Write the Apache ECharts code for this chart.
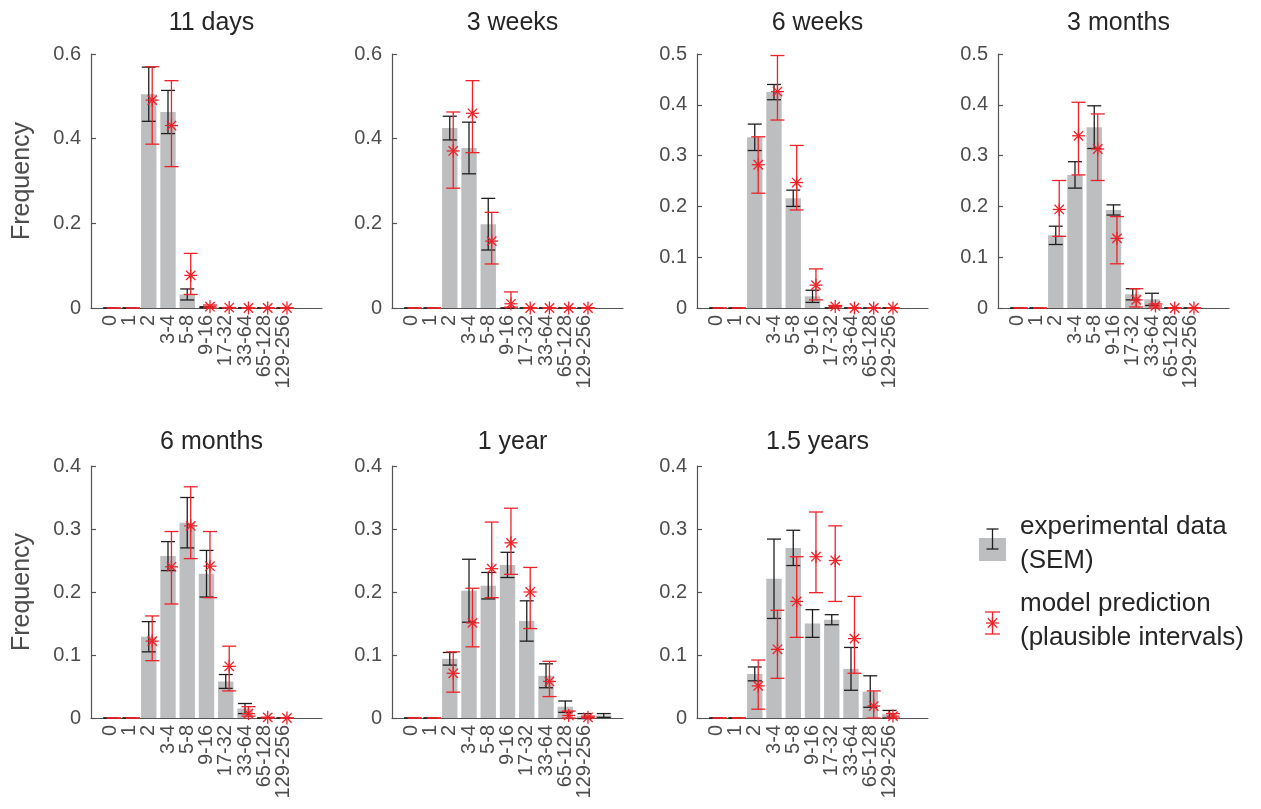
<!DOCTYPE html>
<html>
<head>
<meta charset="utf-8">
<script src="https://cdn.jsdelivr.net/npm/echarts@6/dist/echarts.min.js"></script>
<style>
  html, body { margin: 0; padding: 0; background: #fff; }
  #chart { width: 1261px; height: 809px; }
</style>
</head>
<body>
<div id="chart"></div>
<script>
// bin labels on the x axis (bin i sits at x = i + 1)
const categories = ["0", "1", "2", "3-4", "5-8", "9-16", "17-32", "33-64", "65-128", "129-256"];
const titles = ["11 days", "3 weeks", "6 weeks", "3 months", "6 months", "1 year", "1.5 years"];
const yMaxes = [0.6, 0.6, 0.5, 0.5, 0.4, 0.4, 0.4];
const ySteps = [0.2, 0.2, 0.1, 0.1, 0.1, 0.1, 0.1];

// experimental data: mean and SEM
const days11Exp = [0, 0, 0.505, 0.463, 0.032, 0.002, 0, 0, 0, 0];
const days11Sem = [0, 0, 0.064, 0.051, 0.013, 0.001, 0, 0, 0, 0];
const weeks3Exp = [0, 0, 0.425, 0.378, 0.198, 0, 0, 0, 0, 0];
const weeks3Sem = [0, 0, 0.028, 0.061, 0.061, 0, 0, 0, 0, 0];
const weeks6Exp = [0, 0, 0.336, 0.425, 0.216, 0.023, 0, 0, 0, 0];
const weeks6Sem = [0, 0, 0.026, 0.015, 0.016, 0.012, 0, 0, 0, 0];
const months3Exp = [0, 0, 0.143, 0.262, 0.356, 0.193, 0.027, 0.017, 0, 0];
const months3Sem = [0, 0, 0.018, 0.026, 0.042, 0.010, 0.011, 0.012, 0, 0];
const months6Exp = [0, 0, 0.129, 0.257, 0.310, 0.229, 0.058, 0.015, 0, 0];
const months6Sem = [0, 0, 0.024, 0.023, 0.040, 0.037, 0.011, 0.008, 0, 0];
const year1Exp = [0, 0, 0.094, 0.202, 0.210, 0.243, 0.154, 0.067, 0.018, 0.003, 0.004];
const year1Sem = [0, 0, 0.010, 0.050, 0.021, 0.020, 0.032, 0.019, 0.009, 0.004, 0.003];
const years15Exp = [0, 0, 0.070, 0.221, 0.270, 0.150, 0.156, 0.078, 0.042, 0.006];
const years15Sem = [0, 0, 0.011, 0.063, 0.028, 0.022, 0.008, 0.034, 0.025, 0.006];

// model prediction: value and plausible interval
const days11Mod = [null, null, 0.491, 0.431, 0.077, 0.003, 0.001, 0, 0, 0];
const days11Lo = [0, 0, 0.387, 0.334, 0.032, 0, 0, 0, 0, 0];
const days11Hi = [0, 0, 0.570, 0.537, 0.129, 0.007, 0.001, 0, 0, 0];
const weeks3Mod = [null, null, 0.371, 0.460, 0.158, 0.010, 0, 0, 0, 0];
const weeks3Lo = [0, 0, 0.283, 0.367, 0.104, 0.002, 0, 0, 0, 0];
const weeks3Hi = [0, 0, 0.463, 0.537, 0.226, 0.038, 0, 0, 0, 0];
const weeks6Mod = [null, null, 0.282, 0.426, 0.247, 0.045, 0.003, 0, 0, 0];
const weeks6Lo = [0, 0, 0.226, 0.370, 0.193, 0.016, 0, 0, 0, 0];
const weeks6Hi = [0, 0, 0.337, 0.497, 0.320, 0.077, 0.005, 0, 0, 0];
const months3Mod = [null, null, 0.194, 0.339, 0.313, 0.137, 0.016, 0.004, 0, 0];
const months3Lo = [0, 0, 0.141, 0.262, 0.251, 0.087, 0.002, 0, 0, 0];
const months3Hi = [0, 0, 0.251, 0.405, 0.382, 0.180, 0.038, 0.008, 0, 0];
const months6Mod = [null, null, 0.122, 0.240, 0.305, 0.241, 0.082, 0.007, 0.001, 0];
const months6Lo = [0, 0, 0.091, 0.181, 0.253, 0.191, 0.043, 0.003, 0, 0];
const months6Hi = [0, 0, 0.162, 0.296, 0.367, 0.296, 0.114, 0.018, 0.001, 0];
const year1Mod = [null, null, 0.071, 0.151, 0.237, 0.278, 0.200, 0.058, 0.004, 0.001];
const year1Lo = [0, 0, 0.041, 0.113, 0.191, 0.228, 0.142, 0.034, 0, 0];
const year1Hi = [0, 0, 0.105, 0.206, 0.311, 0.333, 0.239, 0.090, 0.011, 0.003];
const years15Mod = [null, null, 0.051, 0.109, 0.185, 0.256, 0.250, 0.126, 0.019, 0.003];
const years15Lo = [0, 0, 0.014, 0.063, 0.128, 0.199, 0.185, 0.071, 0, 0];
const years15Hi = [0, 0, 0.092, 0.171, 0.256, 0.327, 0.305, 0.193, 0.043, 0.007];

const expList = [days11Exp, weeks3Exp, weeks6Exp, months3Exp, months6Exp, year1Exp, years15Exp];
const semList = [days11Sem, weeks3Sem, weeks6Sem, months3Sem, months6Sem, year1Sem, years15Sem];
const modList = [days11Mod, weeks3Mod, weeks6Mod, months3Mod, months6Mod, year1Mod, years15Mod];
const loList = [days11Lo, weeks3Lo, weeks6Lo, months3Lo, months6Lo, year1Lo, years15Lo];
const hiList = [days11Hi, weeks3Hi, weeks6Hi, months3Hi, months6Hi, year1Hi, years15Hi];

// layout (px)
const lefts = [91, 392, 697, 998, 91, 392, 697];
const tops = [54, 54, 54, 54, 466, 466, 466];
const heights = [254, 254, 254, 254, 252, 252, 252];
const titleTops = [6, 6, 6, 6, 425, 425, 425];
const W = 231;

const font = "Liberation Sans, Arial, Helvetica, sans-serif";
const barColor = "#bcbec0";
const axisColor = "#555555";
const tickText = "#4d4d4d";
const black = "#1f1f1f";
const red = "#ee2228";
const redShift = 0.18;

function errRender(color, dx, half) {
  return function (params, api) {
    const x = api.value(0) + dx;
    const lo = api.coord([x, api.value(1)]);
    const hi = api.coord([x, api.value(2)]);
    const s = { stroke: color, lineWidth: 1.3 };
    return {
      type: "group",
      children: [
        { type: "line", shape: { x1: lo[0], y1: lo[1], x2: hi[0], y2: hi[1] }, style: s },
        { type: "line", shape: { x1: lo[0] - half, y1: lo[1], x2: lo[0] + half, y2: lo[1] }, style: s },
        { type: "line", shape: { x1: hi[0] - half, y1: hi[1], x2: hi[0] + half, y2: hi[1] }, style: s },
      ],
    };
  };
}

function starShapes(cx, cy, r, color) {
  const d = r * 0.72;
  const s = { stroke: color, lineWidth: 1.3 };
  return [
    { type: "line", shape: { x1: cx - r, y1: cy, x2: cx + r, y2: cy }, style: s },
    { type: "line", shape: { x1: cx, y1: cy - r, x2: cx, y2: cy + r }, style: s },
    { type: "line", shape: { x1: cx - d, y1: cy - d, x2: cx + d, y2: cy + d }, style: s },
    { type: "line", shape: { x1: cx - d, y1: cy + d, x2: cx + d, y2: cy - d }, style: s },
  ];
}

function starRender(params, api) {
  const p = api.coord([api.value(0) + redShift, api.value(1)]);
  return { type: "group", children: starShapes(p[0], p[1], 6.5, red) };
}

function barRender(params, api) {
  const x = api.value(0);
  const p0 = api.coord([x - 0.4, api.value(1)]);
  const p1 = api.coord([x + 0.4, 0]);
  return {
    type: "rect",
    shape: { x: p0[0], y: p0[1], width: p1[0] - p0[0], height: p1[1] - p0[1] },
    style: { fill: barColor },
  };
}

const grids = [], xAxes = [], yAxes = [], series = [], titleList = [];

titles.forEach((t, i) => {
  grids.push({ left: lefts[i], top: tops[i], width: W, height: heights[i] });
  titleList.push({
    text: t,
    left: lefts[i] + W / 2,
    top: titleTops[i],
    textAlign: "center",
    textStyle: { fontFamily: font, fontSize: 25, fontWeight: "normal", color: "#262626" },
  });
  xAxes.push({
    type: "value", gridIndex: i, min: 0, max: 12, interval: 1, z: 3,
    axisLine: { show: true, onZero: false, lineStyle: { color: axisColor, width: 1.2 } },
    axisTick: { show: false },
    splitLine: { show: false },
    axisLabel: {
      rotate: 90, margin: 7, fontFamily: font, fontSize: 20, color: tickText,
      showMinLabel: true, showMaxLabel: true,
      formatter: (v) => categories[Math.round(v) - 1] || "",
    },
  });
  yAxes.push({
    type: "value", gridIndex: i, min: 0, max: yMaxes[i], interval: ySteps[i], z: 3,
    axisLine: { show: true, lineStyle: { color: axisColor, width: 1.2 } },
    axisTick: { show: true, inside: true, length: 5, lineStyle: { color: axisColor, width: 1.2 } },
    splitLine: { show: false },
    axisLabel: {
      margin: 10, fontFamily: font, fontSize: 20, color: tickText,
      formatter: (v) => String(parseFloat(v.toFixed(2))),
    },
  });

  const exp = expList[i], sem = semList[i], mod = modList[i], lo = loList[i], hi = hiList[i];
  series.push({
    type: "custom", xAxisIndex: i, yAxisIndex: i, z: 2, silent: true,
    renderItem: barRender,
    data: exp.map((v, k) => [k + 1, v]),
  });
  series.push({
    type: "custom", xAxisIndex: i, yAxisIndex: i, z: 4, silent: true,
    renderItem: errRender(black, 0, 7),
    data: exp.map((v, k) => [k + 1, v - sem[k], v + sem[k]]),
  });
  series.push({
    type: "custom", xAxisIndex: i, yAxisIndex: i, z: 5, silent: true,
    renderItem: errRender(red, redShift, 7),
    data: lo.map((v, k) => [k + 1, v, hi[k]]),
  });
  series.push({
    type: "custom", xAxisIndex: i, yAxisIndex: i, z: 6, silent: true,
    renderItem: starRender,
    data: mod.map((v, k) => [k + 1, v]).filter((d) => d[1] !== null),
  });
});

// legend (drawn by hand to match the errorbar icons)
const legendGraphics = [
  { type: "rect", shape: { x: 979, y: 538, width: 27, height: 23 }, style: { fill: barColor } },
  { type: "line", shape: { x1: 992.5, y1: 529, x2: 992.5, y2: 549 }, style: { stroke: black, lineWidth: 1.3 } },
  { type: "line", shape: { x1: 986.5, y1: 529, x2: 998.5, y2: 529 }, style: { stroke: black, lineWidth: 1.3 } },
  { type: "line", shape: { x1: 986.5, y1: 549, x2: 998.5, y2: 549 }, style: { stroke: black, lineWidth: 1.3 } },
  { type: "line", shape: { x1: 992.5, y1: 612, x2: 992.5, y2: 634 }, style: { stroke: red, lineWidth: 1.3 } },
  { type: "line", shape: { x1: 985, y1: 612, x2: 1000, y2: 612 }, style: { stroke: red, lineWidth: 1.3 } },
  { type: "line", shape: { x1: 985, y1: 634, x2: 1000, y2: 634 }, style: { stroke: red, lineWidth: 1.3 } },
  ...starShapes(992.5, 623, 6.5, red),
  {
    type: "text", x: 1020, y: 510,
    style: { text: "experimental data\n(SEM)", font: "26px " + font, fill: "#262626", lineHeight: 34, textVerticalAlign: "top" },
  },
  {
    type: "text", x: 1020, y: 587,
    style: { text: "model prediction\n(plausible intervals)", font: "26px " + font, fill: "#262626", lineHeight: 34, textVerticalAlign: "top" },
  },
  {
    type: "text", x: 22, y: 181, rotation: Math.PI / 2,
    style: { text: "Frequency", font: "25px " + font, fill: "#4d4d4d", textAlign: "center", textVerticalAlign: "middle" },
  },
  {
    type: "text", x: 22, y: 592, rotation: Math.PI / 2,
    style: { text: "Frequency", font: "25px " + font, fill: "#4d4d4d", textAlign: "center", textVerticalAlign: "middle" },
  },
];

const chart = echarts.init(document.getElementById("chart"));
chart.setOption({
  animation: false,
  backgroundColor: "#ffffff",
  title: titleList,
  grid: grids,
  xAxis: xAxes,
  yAxis: yAxes,
  series: series,
  graphic: legendGraphics,
});
</script>
</body>
</html>
